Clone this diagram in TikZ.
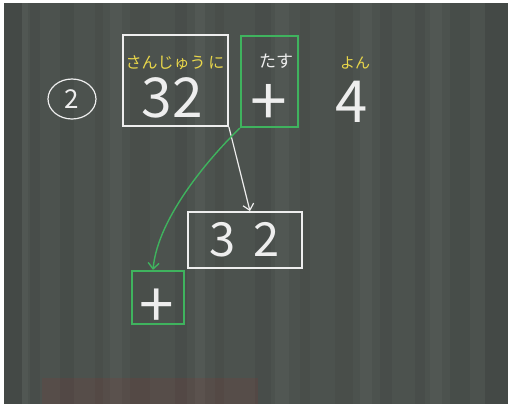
\documentclass[tikz,border=0pt]{standalone}
\usepackage{fontspec}
\setmainfont{Noto Sans CJK JP}
\usetikzlibrary{arrows.meta,shapes.geometric}
\definecolor{board}{HTML}{4C524E}
\definecolor{chalk}{HTML}{EEEEEE}
\definecolor{chalkyellow}{HTML}{E8D64A}
\definecolor{chalkgreen}{HTML}{3FB35E}
\begin{document}
\begin{tikzpicture}[x=1pt,y=-1pt,
  wbox/.style={draw=chalk, line width=1.8pt, inner sep=0pt},
  gbox/.style={draw=chalkgreen, line width=2.2pt, inner sep=0pt},
  bigtext/.style={text=chalk, inner sep=0pt},
  ylab/.style={text=chalkyellow, inner sep=0pt},
  wlab/.style={text=chalk, inner sep=0pt},
  warrow/.style={draw=chalk, line width=1.2pt, -{Straight Barb[length=6pt,width=11pt]}},
  garrow/.style={draw=chalkgreen, line width=1.4pt, -{Straight Barb[length=6pt,width=11pt]}}
]
% board
\fill[white] (0,0) rectangle (509,405);
\fill[board] (4,3) rectangle (508,404);
\foreach \x/\w/\o in {4/18/0.10,30/10/0.05,60/14/0.06,95/8/0.04,130/20/0.04,175/12/0.05,215/9/0.04,255/16/0.05,300/10/0.04,335/18/0.04,380/12/0.05,415/10/0.05,450/20/0.06,485/23/0.10}
  \fill[black, opacity=\o] (\x,3) rectangle ({\x+\w},404);
\foreach \x/\w/\o in {22/6/0.03,110/12/0.03,195/10/0.035,275/14/0.03,360/12/0.03,430/12/0.03}
  \fill[white, opacity=\o] (\x,3) rectangle ({\x+\w},404);
\fill[red!40!board, opacity=0.15] (42,378) rectangle (258,404);

% number
\node[ellipse, draw=chalk, line width=1.2pt, minimum width=48pt, minimum height=40pt, inner sep=0pt,
      text=chalk, font=\fontsize{26}{26}\selectfont] (num) at (72,99) {2};

% top row
\node[wbox, minimum width=105pt, minimum height=91pt] (b32) at (175.5,80.5) {};
\node[ylab, font=\fontsize{16}{16}\selectfont] (y1) at (175,63) {さんじゅう\,に};
\node[bigtext, font=\fontsize{55}{55}\selectfont] (t32) at (172,98) {32};

\node[gbox, minimum width=57pt, minimum height=91pt] (gp) at (269.5,81.5) {};
\node[wlab, font=\fontsize{17}{17}\selectfont] (tasu) at (276,61) {たす};
\node[bigtext, font=\fontsize{66}{66}\selectfont] (plus1) at (269,125) {\smash{+}};

\node[ylab, font=\fontsize{15}{15}\selectfont] (yon) at (355,63) {よん};
\node[bigtext, font=\fontsize{58}{58}\selectfont] (four) at (352,102) {4};

% lower boxes
\node[wbox, minimum width=114pt, minimum height=56pt] (b3) at (245,240) {};
\node[bigtext, font=\fontsize{47}{47}\selectfont] (t3) at (245,240) {3\hspace{18pt}2};

\node[gbox, minimum width=52pt, minimum height=53pt] (gs) at (158,297.5) {};
\node[bigtext, font=\fontsize{62}{62}\selectfont] (plus2) at (157,327) {\smash{+}};

% connectors
\coordinate (a1) at ([xshift=5pt]b3.north);
\draw[warrow] (b32.south east) -- (a1);
\coordinate (a2) at ([xshift=-5pt]gs.north);
\draw[garrow] (gp.south west) .. controls (215,152) and (158,215) .. (a2);
\end{tikzpicture}
\end{document}
